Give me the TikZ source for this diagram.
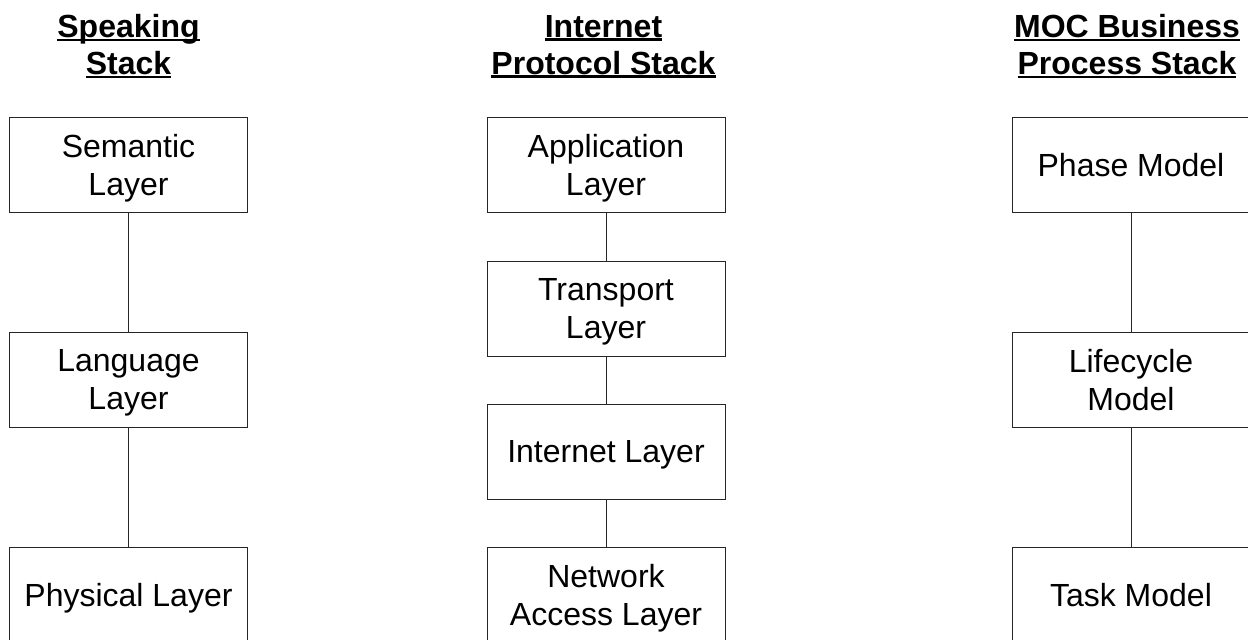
\documentclass[tikz,border=0pt]{standalone}
\usepackage{fontspec}
\setmainfont{Liberation Sans}
\usetikzlibrary{positioning}
\newcommand{\stackUl}[1]{\setbox0\hbox{#1}\rlap{\rule[-1.8pt]{\wd0}{1.2pt}}\box0}
\tikzset{
  layerBox/.style={draw=black!85, line width=0.5pt, minimum width=119pt,
    minimum height=47.5pt, inner sep=0pt, align=center, text depth=0pt,
    font=\fontsize{16}{19}\selectfont},
  stackTitle/.style={align=center, inner sep=0pt,
    font=\fontsize{16}{18.5}\selectfont\bfseries},
  link/.style={draw=black!85, line width=0.5pt}
}
\begin{document}
\begin{tikzpicture}[x=0.5pt,y=-0.5pt]
  \useasboundingbox (0,0) rectangle (1248,639);
  \clip (0,0) rectangle (1248,639);
  % titulos de las tres pilas
  \node[stackTitle] (tSpeak) at (128.5,46.5) {\stackUl{Speaking}\\\stackUl{Stack}};
  \node[stackTitle] (tInet) at (603.5,46.5) {\stackUl{Internet}\\\stackUl{Protocol Stack}};
  \node[stackTitle] (tMoc) at (1127,46.5) {\stackUl{MOC Business}\\\stackUl{Process Stack}};
  % pila del habla
  \node[layerBox] (semantic) at (128.5,164.5) {Semantic\\Layer};
  \node[layerBox] (language) at (128.5,379.5) {Language\\Layer};
  \node[layerBox] (physical) at (128.5,594.5) {Physical Layer};
  \draw[link] (semantic) -- (language);
  \draw[link] (language) -- (physical);
  % pila de protocolos
  \node[layerBox] (application) at (606,164.5) {Application\\Layer};
  \node[layerBox] (transport) at (606,308.5) {Transport\\Layer};
  \node[layerBox] (internet) at (606,451.5) {Internet Layer};
  \node[layerBox] (netaccess) at (606,594.5) {Network\\Access Layer};
  \draw[link] (application) -- (transport);
  \draw[link] (transport) -- (internet);
  \draw[link] (internet) -- (netaccess);
  % pila MOC
  \node[layerBox] (phase) at (1131,164.5) {Phase Model};
  \node[layerBox] (lifecycle) at (1131,379.5) {Lifecycle\\Model};
  \node[layerBox] (task) at (1131,594.5) {Task Model};
  \draw[link] (phase) -- (lifecycle);
  \draw[link] (lifecycle) -- (task);
\end{tikzpicture}
\end{document}
